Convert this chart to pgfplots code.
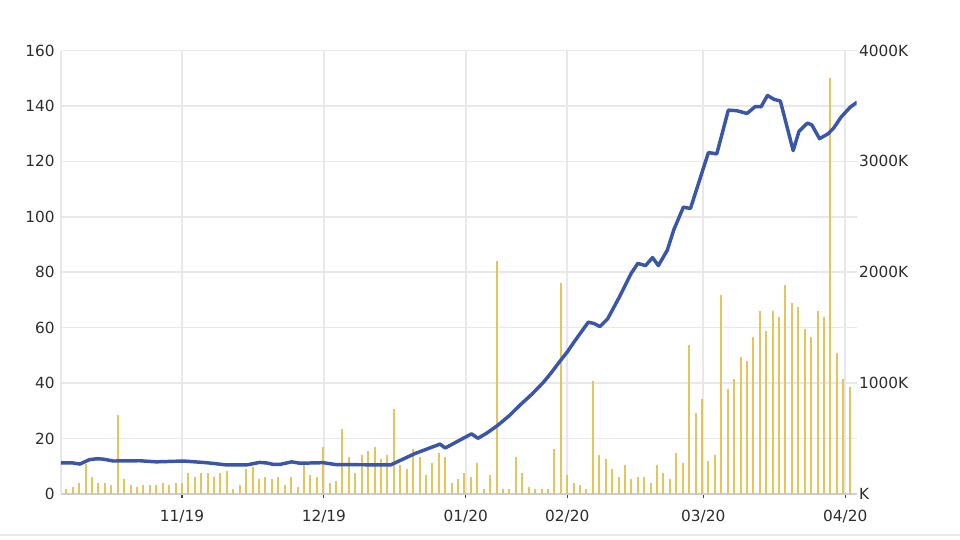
\documentclass[border=0pt]{standalone}
\usepackage{fontspec}
\setmainfont{DejaVu Sans}
\usepackage{pgfplots}
\usepackage{pgfplotstable}
\pgfplotsset{compat=1.18}
\definecolor{gridc}{RGB}{232,232,232}
\definecolor{axc}{RGB}{205,205,205}
\definecolor{txt}{RGB}{45,45,45}
\definecolor{barc}{RGB}{229,196,92}
\definecolor{linec}{RGB}{58,86,168}

\pgfplotstableread{
i v
0 45
1 60
2 98
3 270
4 150
5 98
6 98
7 78
8 712
9 133
10 78
11 60
12 78
13 78
14 78
15 98
16 78
17 98
18 98
19 188
20 150
21 188
22 188
23 150
24 188
25 205
26 43
27 78
28 223
29 240
30 133
31 150
32 133
33 150
34 78
35 150
36 60
37 258
38 168
39 150
40 420
41 98
42 115
43 583
44 330
45 188
46 350
47 385
48 420
49 313
50 350
51 763
52 258
53 223
54 403
55 330
56 168
57 278
58 368
59 330
60 98
61 133
62 190
63 153
64 278
65 45
66 168
67 2098
68 45
69 45
70 330
71 188
72 60
73 45
74 45
75 45
76 403
77 1900
78 168
79 98
80 78
81 45
82 1020
83 353
84 315
85 225
86 153
87 263
88 135
89 153
90 153
91 100
92 263
93 190
94 135
95 370
96 280
97 1343
98 730
99 855
100 295
101 353
102 1793
103 945
104 1035
105 1233
106 1198
107 1415
108 1648
109 1468
110 1648
111 1595
112 1883
113 1720
114 1685
115 1488
116 1415
117 1648
118 1595
119 3755
120 1270
121 1035
122 963
}\voltable

\pgfplotstableread{
x p
-0.84 11.2
1.0 11.2
2.1 10.8
3.6 12.4
4.7 12.7
5.7 12.6
7.3 11.9
11.4 12.0
14.0 11.6
18.2 11.9
21.8 11.3
24.9 10.5
28.1 10.5
30.1 11.4
31.2 11.2
32.2 10.7
33.3 10.7
35.1 11.6
36.4 11.1
40.0 11.3
42.0 10.6
50.5 10.5
54.3 14.6
58.2 18.0
59.0 16.6
63.1 21.7
64.1 20.1
65.5 22.0
67.2 24.8
69.0 28.3
70.66 32.1
72.5 36.0
74.3 40.3
75.6 44.0
76.9 48.0
78.0 51.2
79.0 54.6
80.2 58.5
81.3 62.0
82.2 61.5
83.1 60.4
84.3 63.2
86.0 70.5
88.0 79.7
89.0 83.2
90.2 82.4
91.3 85.3
92.2 82.4
93.6 88.0
94.6 95.3
96.1 103.5
97.2 103.0
100.0 123.2
101.3 122.7
103.1 138.5
104.4 138.3
106.0 137.3
107.3 139.8
108.2 139.7
109.2 143.8
110.2 142.4
111.2 141.8
113.2 123.9
114.1 130.8
115.4 133.8
116.1 133.2
117.3 128.2
118.6 129.9
119.5 132.0
120.7 136.1
122.1 139.6
123.1 141.3
}\pricetable

\pgfplotsset{
  base/.style={
    scale only axis, width=596.8pt, height=332.6pt,
    at={(0,0)}, anchor=south west,
    xmin=-0.84, xmax=123.1,
    /pgf/number format/assume math mode=true,
    tick label style={font=\fontsize{11.5}{13}\selectfont, text=txt},
  }
}

\begin{document}
\begin{tikzpicture}
\path[use as bounding box] (-45.75pt,-33.75pt) rectangle (674.25pt,370.5pt);
\draw[gridc, line width=1.5pt] (-45.75pt,-30.75pt) -- (674.25pt,-30.75pt);

\begin{axis}[base,
  ymin=0, ymax=160, ytick={0,20,...,160},
  xtick={18,40.1,62.2,78,99.2,121.3},
  xticklabels={11/19,12/19,01/20,02/20,03/20,04/20},
  axis x line*=bottom, axis y line*=left,
  x axis line style={draw=axc, line width=1.6pt},
  y axis line style={draw=gridc, line width=1.2pt},
  grid=major, major grid style={draw=gridc, line width=1.2pt},
  tick align=outside, major tick length=3pt,
  xtick style={draw=black!75, line width=0.9pt},
  ytick style={draw=none},
  xticklabel style={inner sep=0pt, yshift=-9pt},
  yticklabel style={inner sep=0pt, xshift=-1.5pt},
]
\end{axis}

\begin{axis}[base,
  ymin=0, ymax=4000, ytick={0,1000,2000,3000,4000},
  yticklabels={K,1000K,2000K,3000K,4000K},
  axis y line*=right, axis x line=none,
  y axis line style={draw=none},
  tick align=outside, major tick length=0pt,
  ytick style={draw=none},
  yticklabel style={inner sep=0pt, xshift=1.5pt},
]
\addplot[ycomb, draw=barc, line width=1.5pt, mark=none] table[x=i,y=v]{\voltable};
\end{axis}

\begin{axis}[base, ymin=0, ymax=160, hide axis]
\addplot[draw=linec, line width=2.6pt, line join=round, line cap=round, mark=none] table[x=x,y=p]{\pricetable};
\end{axis}
\end{tikzpicture}
\end{document}
